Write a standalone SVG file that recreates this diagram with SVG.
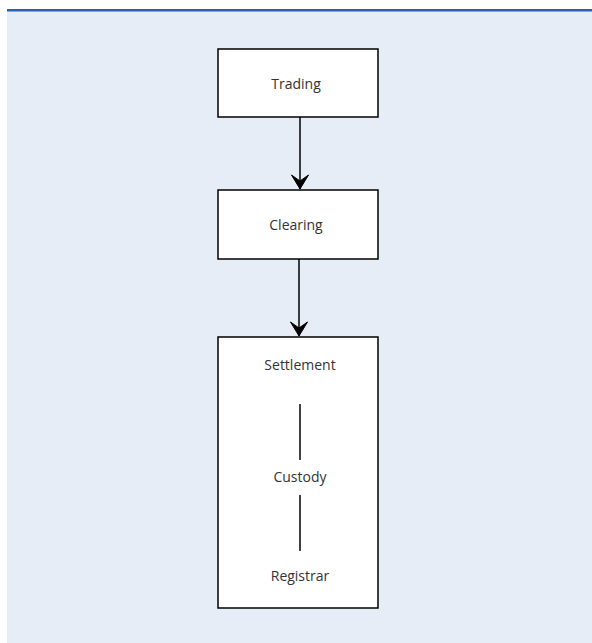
<svg xmlns="http://www.w3.org/2000/svg" width="592" height="643" viewBox="0 0 592 643">
<style>
.box{fill:#fff;stroke:#000;stroke-width:1.5}
.t{font-family:"Open Sans","Noto Sans",sans-serif;font-size:14px;fill:#333;text-anchor:middle;dominant-baseline:central}
.c{stroke:#000;stroke-width:1.5;fill:none}
</style>
<defs>
<marker id="ah" viewBox="-16 -11 17 22" markerWidth="17" markerHeight="22" refX="0" refY="0" orient="auto" markerUnits="userSpaceOnUse">
<path d="M0,0 L-14,-8.5 L-8,0 L-14,8.5 Z" fill="#000" stroke="#000" stroke-width="1" stroke-linejoin="miter"/>
</marker>
</defs>
<rect x="7" y="10" width="585" height="633" fill="#e6edf6"/>
<rect x="7" y="9" width="585" height="2.5" fill="#2f5ea8"/>
<g id="trading">
<rect class="box" x="218" y="49" width="160" height="68"/>
<text class="t" x="296" y="83">Trading</text>
</g>
<g id="clearing">
<rect class="box" x="218" y="190" width="160" height="69"/>
<text class="t" x="296" y="224">Clearing</text>
</g>
<g id="settlement">
<rect class="box" x="218" y="337" width="160" height="271"/>
<text class="t" x="300" y="364">Settlement</text>
<text class="t" x="300" y="476">Custody</text>
<text class="t" x="300" y="575">Registrar</text>
</g>
<g id="connectors">
<line class="c" x1="300" y1="117" x2="300" y2="189" marker-end="url(#ah)"/>
<line class="c" x1="299" y1="259" x2="299" y2="336" marker-end="url(#ah)"/>
<line class="c" x1="300" y1="404" x2="300" y2="460"/>
<line class="c" x1="300" y1="495" x2="300" y2="551"/>
</g>
</svg>
